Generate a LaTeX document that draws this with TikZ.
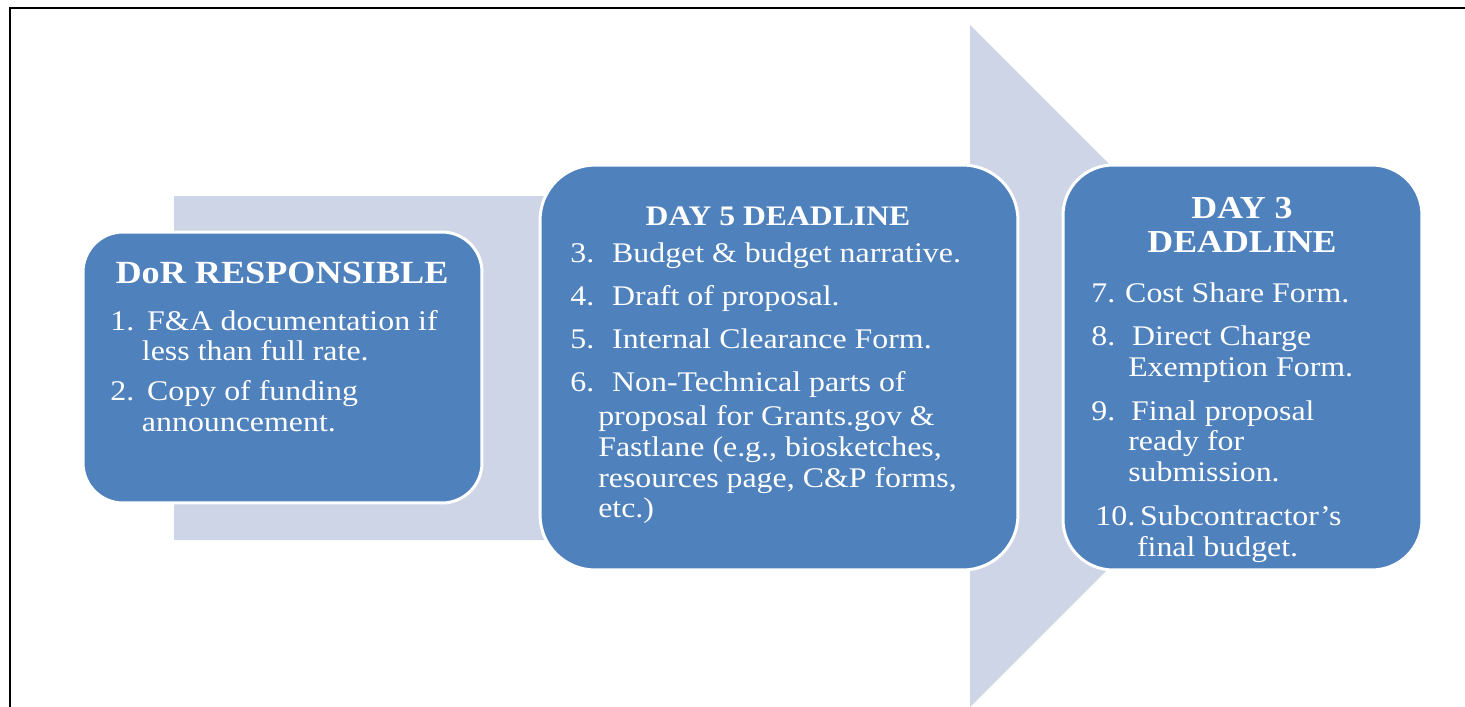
\documentclass[tikz,border=0pt]{standalone}
\usepackage{fontspec}
\setmainfont{Liberation Serif}[FakeStretch=1.12]
\definecolor{boxblue}{RGB}{79,129,189}
\definecolor{paleblue}{RGB}{206,213,231}
\newcommand{\itemno}[2][21pt]{\makebox[#1][l]{#2}}
\newcommand{\bodyfont}{\fontsize{16.2pt}{17.6pt}\selectfont}
\begin{document}
\begin{tikzpicture}[x=0.02cm, y=-0.02cm,
	stage/.style={rounded corners=#1, draw=white, line width=1.7pt, fill=boxblue, inner sep=0pt},
	head/.style={text=white, anchor=base, inner sep=0pt},
	body/.style={text=white, anchor=base west, inner sep=0pt, font=\bodyfont}]
\useasboundingbox (0,0) rectangle (1465,707);
\clip (0,0) rectangle (1465,707);
% frame
\draw[line width=1.1pt] (10,720) -- (10,8) -- (1480,8);
% big arrow behind
\fill[paleblue] (174,196) -- (970,196) -- (970,25) -- (1311,366) -- (970,707)
	-- (970,540) -- (174,540) -- cycle;
% the three stages
\node[stage=0.8cm, minimum width=7.98cm, minimum height=5.42cm] (dor) at (282.5,367.5) {};
\node[stage=1.1cm, minimum width=9.56cm, minimum height=8.1cm] (day5) at (779,367.5) {};
\node[stage=1cm, minimum width=7.18cm, minimum height=8.1cm] (day3) at (1242.5,367.5) {};
\node[text=white, opacity=0.7, font=\fontsize{10pt}{10pt}\selectfont] (slideno) at (1098,592) {1};

\node[head, font=\bfseries\fontsize{18.4pt}{20pt}\selectfont] (dorhead) at (282,283) {DoR RESPONSIBLE};
\node[body] (dorlist) at (110,330) {\begin{tabular}[t]{@{}l@{}}
\itemno{1.}F\&A documentation if\\
\hspace*{18pt}less than full rate.\\[5.1pt]
\itemno{2.}Copy of funding\\
\hspace*{18pt}announcement.
\end{tabular}};

\node[head, font=\bfseries\fontsize{16.1pt}{18pt}\selectfont] (day5head) at (778,225) {DAY 5 DEADLINE};
\node[body] (day5list) at (570,262) {\begin{tabular}[t]{@{}l@{}}
\itemno[23.8pt]{3.}Budget \& budget narrative.\\[7pt]
\itemno[23.8pt]{4.}Draft of proposal.\\[7pt]
\itemno[23.8pt]{5.}Internal Clearance Form.\\[7pt]
\itemno[23.8pt]{6.}Non-Technical parts of\\[1.5pt]
\hspace*{15.9pt}proposal for Grants.gov \&\\
\hspace*{15.9pt}Fastlane (e.g., biosketches,\\
\hspace*{15.9pt}resources page, C\&P forms,\\
\hspace*{15.9pt}etc.)
\end{tabular}};

\node[head, font=\bfseries\fontsize{18.2pt}{19.8pt}\selectfont] (day3head) at (1242,218) {\begin{tabular}[t]{@{}c@{}}DAY 3\\DEADLINE\end{tabular}};
\node[body] (day3list) at (1091,302) {\begin{tabular}[t]{@{}l@{}}
\itemno[19.3pt]{7.}Cost Share Form.\\[7.2pt]
\itemno[23.2pt]{8.}Direct Charge\\
\hspace*{21pt}Exemption Form.\\[7.2pt]
\itemno[22.7pt]{9.}Final proposal\\
\hspace*{21pt}ready for\\
\hspace*{21pt}submission.\\[7.2pt]
\hspace*{2.3pt}\itemno[25.5pt]{10.}Subcontractor's\\
\hspace*{26pt}final budget.
\end{tabular}};
\end{tikzpicture}
\end{document}
